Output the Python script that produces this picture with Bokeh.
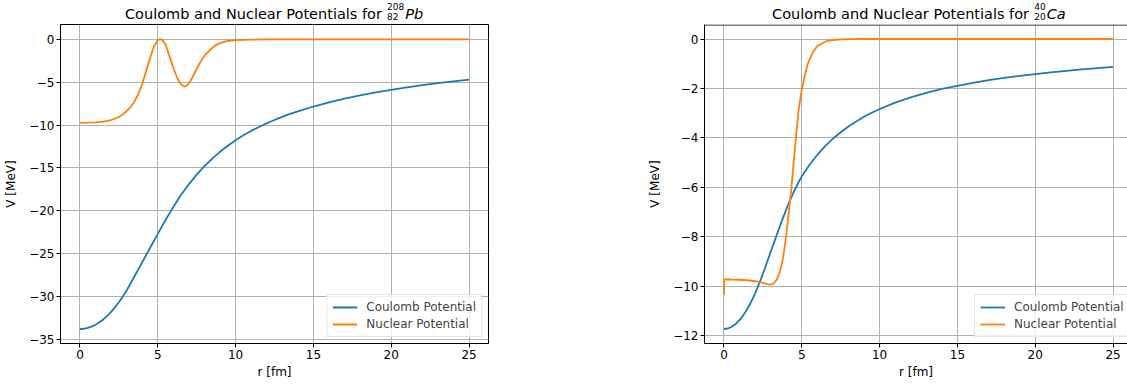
from bokeh.plotting import figure
from bokeh.models import (Range1d, FixedTicker, Legend, LegendItem, Label,
                          Span, CustomJSTickFormatter)
from bokeh.layouts import row, column
from bokeh.embed import file_html
from bokeh.resources import INLINE

# ---------------- data ----------------
x_ticks = [0, 5, 10, 15, 20, 25]
pb_y_ticks = [-35, -30, -25, -20, -15, -10, -5, 0]
ca_y_ticks = [-12, -10, -8, -6, -4, -2, 0]

pb_r_coulomb = [0, 0.25, 0.5, 0.75, 1, 1.25, 1.5, 1.75, 2, 2.25, 2.5, 2.75,
                3, 3.25, 3.5, 3.75, 4, 4.25, 4.5, 4.75, 5, 5.25, 5.5, 5.75,
                6, 6.5, 7, 7.5, 8, 8.5, 9, 9.5, 10, 10.5, 11, 11.5, 12, 12.5,
                13, 13.5, 14, 15, 16, 17, 18, 19, 20, 21, 22, 23, 24, 25]
pb_v_coulomb = [-33.8, -33.77, -33.68, -33.52, -33.3, -33.02, -32.68, -32.27,
                -31.8, -31.27, -30.68, -30.02, -29.3, -28.49, -27.67, -26.84,
                -26.01, -25.18, -24.35, -23.52, -22.7, -21.88, -21.07, -20.3,
                -19.55, -18.14, -16.89, -15.78, -14.79, -13.91, -13.12,
                -12.41, -11.77, -11.19, -10.68, -10.22, -9.79, -9.4, -9.04,
                -8.7, -8.39, -7.83, -7.34, -6.91, -6.53, -6.18, -5.88, -5.6,
                -5.34, -5.11, -4.9, -4.7]

pb_r_nuclear = [0, 0.5, 1, 1.5, 2, 2.5, 2.75, 3, 3.25, 3.5, 3.75, 4, 4.25, 4.5,
                4.75, 5, 5.15, 5.3, 5.5, 5.75, 6, 6.25, 6.5, 6.7, 6.9, 7.1,
                7.35, 7.6, 7.85, 8.1, 8.4, 8.7, 9, 9.5, 10, 11, 12, 15, 20, 25]
pb_v_nuclear = [-9.73, -9.72, -9.68, -9.6, -9.42, -9.05, -8.75, -8.35, -7.9,
                -7.25, -6.4, -5.2, -3.7, -2.2, -0.85, -0.1, 0.05, -0.1, -0.6,
                -1.95, -3.3, -4.5, -5.25, -5.5, -5.35, -4.85, -4.0, -3.1, -2.3,
                -1.7, -1.15, -0.7, -0.42, -0.18, -0.08, -0.02, 0, 0, 0, 0]

ca_r_coulomb = [0, 0.25, 0.5, 0.75, 1, 1.25, 1.5, 1.75, 2, 2.25, 2.5, 2.75,
                3, 3.25, 3.5, 3.75, 4, 4.25, 4.5, 4.75, 5, 5.5, 6, 6.5, 7, 7.5,
                8, 8.5, 9, 9.5, 10, 11, 12, 13, 14, 15, 16, 17, 18, 19, 20, 21,
                22, 23, 24, 25]
ca_v_coulomb = [-11.72, -11.7, -11.63, -11.52, -11.36, -11.16, -10.91, -10.62,
                -10.28, -9.9, -9.49, -9.05, -8.61, -8.17, -7.73, -7.3, -6.89,
                -6.51, -6.16, -5.84, -5.55, -5.08, -4.68, -4.33, -4.03, -3.77,
                -3.54, -3.33, -3.14, -2.98, -2.83, -2.57, -2.36, -2.18, -2.02,
                -1.89, -1.77, -1.66, -1.57, -1.49, -1.42, -1.35, -1.29, -1.23,
                -1.18, -1.13]

ca_r_nuclear = [0, 0.02, 0.5, 1, 1.5, 2, 2.5, 2.8, 3.0, 3.2, 3.4, 3.6, 3.8,
                4.0, 4.15, 4.3, 4.45, 4.6, 4.8, 5.0, 5.2, 5.4, 5.7, 6.0, 6.5,
                7.0, 7.5, 8, 9, 10, 15, 20, 25]
ca_v_nuclear = [-10.35, -9.71, -9.72, -9.73, -9.75, -9.79, -9.86, -9.91, -9.93,
                -9.88, -9.72, -9.4, -8.85, -7.95, -7.1, -6.25, -5.2, -4.15,
                -2.85, -2.05, -1.45, -0.98, -0.55, -0.28, -0.11, -0.04, -0.015,
                -0.005, 0, 0, 0, 0, 0]

series_labels = ["Coulomb Potential", "Nuclear Potential"]
title_main = "Coulomb and Nuclear Potentials for"
pb_sup, pb_sub, pb_sym = "208", "82", "Pb"
ca_sup, ca_sub, ca_sym = "40", "20", "Ca"
x_label = "r [fm]"
y_label = "V [MeV]"

# ---------------- styling / layout ----------------
FONT = "DejaVu Sans"
BLUE = "#1f77b4"
ORANGE = "#ff7f0e"
W = 1127
TITLE_H = 22
H = 387 - TITLE_H
FRAME_TOP, FRAME_BOTTOM = 2, 321          # inside the plot figures
PX_PER_UNIT = 428 / 27.5


def autoscale(vals_lists):
    lo = min(min(v) for v in vals_lists)
    hi = max(max(v) for v in vals_lists)
    pad = 0.05 * (hi - lo)
    return lo - pad, hi + pad


minus_fmt = CustomJSTickFormatter(code="""
    return tick < 0 ? "\u2212" + Math.abs(tick).toString() : tick.toString();
""")


def make_panel(page_left, width, frame_left, frame_right, yticks,
               rc, vc, rn, vn, legend_loc, full_box):
    xs, xe = autoscale([rc, rn])
    xe = xs + (frame_right - frame_left) / PX_PER_UNIT
    ys, ye = autoscale([vc, vn])
    p = figure(width=width, height=H, output_backend="svg",
               toolbar_location=None,
               x_range=Range1d(xs, xe), y_range=Range1d(ys, ye),
               min_border_left=frame_left - page_left,
               min_border_right=page_left + width - frame_right,
               min_border_top=FRAME_TOP, min_border_bottom=H - FRAME_BOTTOM,
               background_fill_color="white", border_fill_color="white")
    p.title.visible = False

    p.xaxis.ticker = FixedTicker(ticks=x_ticks)
    p.yaxis.ticker = FixedTicker(ticks=yticks)
    p.xaxis.axis_label = x_label
    p.yaxis.axis_label = y_label
    for ax in p.xaxis + p.yaxis:
        ax.formatter = minus_fmt
        ax.major_label_text_font = FONT
        ax.major_label_text_font_size = "12px"
        ax.major_label_text_color = "black"
        ax.axis_label_text_font = FONT
        ax.axis_label_text_font_size = "12px"
        ax.axis_label_text_font_style = "normal"
        ax.axis_label_text_color = "black"
        ax.major_tick_out = 4
        ax.major_tick_in = 0
        ax.minor_tick_out = 0
        ax.minor_tick_in = 0
        ax.major_tick_line_color = "black"
        ax.axis_line_color = "black"
        ax.major_label_standoff = 2
    p.xaxis.axis_label_standoff = 3
    p.yaxis.axis_label_standoff = 8

    p.xgrid.grid_line_color = "#b0b0b0"
    p.ygrid.grid_line_color = "#b0b0b0"
    p.xgrid.grid_line_width = 1
    p.ygrid.grid_line_width = 1

    if full_box:
        p.outline_line_color = "black"
        p.outline_line_width = 1
    else:
        p.outline_line_color = None
        frame_h = FRAME_BOTTOM - FRAME_TOP
        top_loc = ye - 0.5 / frame_h * (ye - ys)
        p.add_layout(Span(location=top_loc, dimension="width",
                          line_color="black", line_width=1))

    lc = p.line(rc, vc, line_color=BLUE, line_width=1.8)
    ln = p.line(rn, vn, line_color=ORANGE, line_width=1.8)

    legend = Legend(items=[LegendItem(label=series_labels[0], renderers=[lc]),
                           LegendItem(label=series_labels[1], renderers=[ln])],
                    location=legend_loc, margin=6, padding=5, spacing=3,
                    glyph_width=25, glyph_height=14, label_height=14,
                    label_standoff=9, label_text_font=FONT,
                    label_text_font_size="12px",
                    border_line_color="#cccccc", border_line_width=1,
                    background_fill_color="white", background_fill_alpha=0.8)
    p.add_layout(legend)
    return p


# ---- title strip (pixel coordinates, y measured from top) ----
t = figure(width=W, height=TITLE_H, output_backend="svg",
           toolbar_location=None, x_range=Range1d(0, W),
           y_range=Range1d(TITLE_H, 0), min_border=0,
           x_axis_location=None, y_axis_location=None,
           background_fill_color="white", border_fill_color="white")
t.outline_line_color = None
t.grid.visible = False
BASE_FIX = 4.5   # measured offset of label baselines in this strip


def lab(text, px, py, size, style="normal"):
    t.add_layout(Label(x=px, y=py - BASE_FIX, text=text, text_font=FONT,
                       text_font_size=size, text_align="left",
                       text_baseline="alphabetic", text_color="black",
                       text_font_style=style))


for main_x, script_x, sym_x, sup, sub, sym in [
        (124.5, 386.6, 404.8, pb_sup, pb_sub, pb_sym),
        (771.6, 1033.7, 1046.2, ca_sup, ca_sub, ca_sym)]:
    lab(title_main, main_x, 17.5, "14.5px")
    lab(sup, script_x, 10.0, "9px")
    lab(sub, script_x, 20.0, "9px")
    lab(sym, sym_x, 17.5, "14.5px", "italic")

p1 = make_panel(0, 600, 60, 488, pb_y_ticks,
                pb_r_coulomb, pb_v_coulomb, pb_r_nuclear, pb_v_nuclear,
                "bottom_right", True)
p2 = make_panel(600, 527, 704, 1127, ca_y_ticks,
                ca_r_coulomb, ca_v_coulomb, ca_r_nuclear, ca_v_nuclear,
                (270, 6), False)

layout = column(t, row(p1, p2))
with open("out.html", "w") as f:
    f.write(file_html(layout, INLINE))
